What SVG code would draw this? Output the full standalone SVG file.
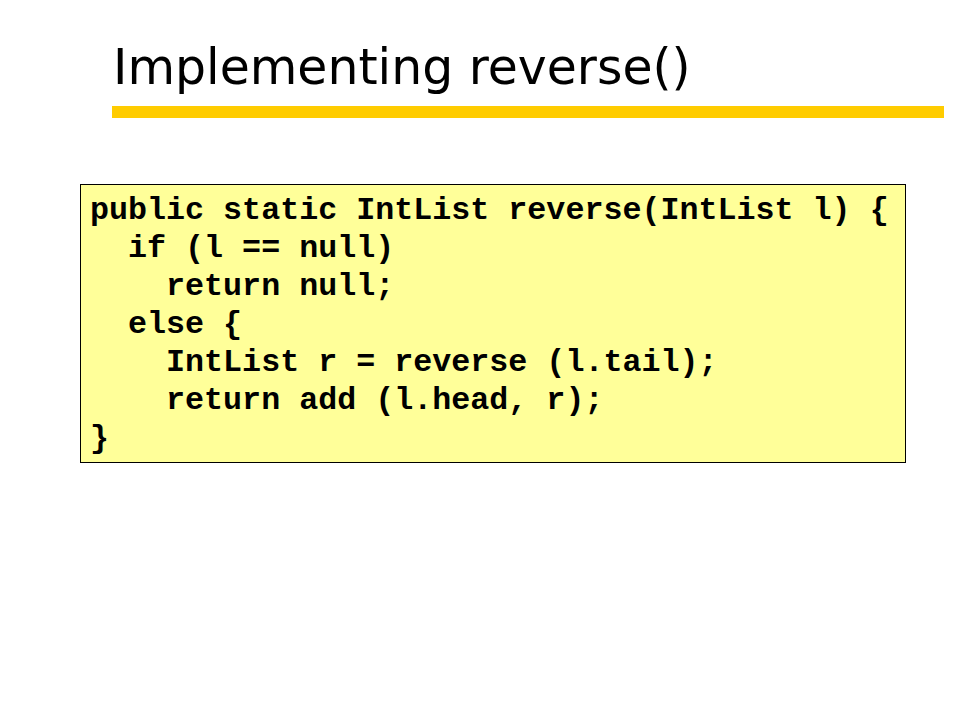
<svg xmlns="http://www.w3.org/2000/svg" width="960" height="720" viewBox="0 0 960 720">
<style>
.title{font-family:"DejaVu Sans",Verdana,sans-serif;font-size:48.9px;fill:#000}
.code{font-family:"Liberation Mono","Courier New",monospace;font-weight:bold;font-size:31.7px;fill:#000;white-space:pre}
</style>
<rect width="960" height="720" fill="#fff"/>
<g id="title">
<text class="title" x="113" y="84">Implementing reverse()</text>
<rect x="112" y="106" width="832" height="12" fill="#FFCC00"/>
</g>
<g id="codebox">
<rect x="80.5" y="184.5" width="825" height="278" fill="#FFFF99" stroke="#000" stroke-width="1"/>
<text class="code" xml:space="preserve"><tspan x="90" y="219">public static IntList reverse(IntList l) {</tspan><tspan x="90" y="257">  if (l == null)</tspan><tspan x="90" y="295">    return null;</tspan><tspan x="90" y="333">  else {</tspan><tspan x="90" y="371">    IntList r = reverse (l.tail);</tspan><tspan x="90" y="409">    return add (l.head, r);</tspan><tspan x="90" y="447">}</tspan></text>
</g>
</svg>
